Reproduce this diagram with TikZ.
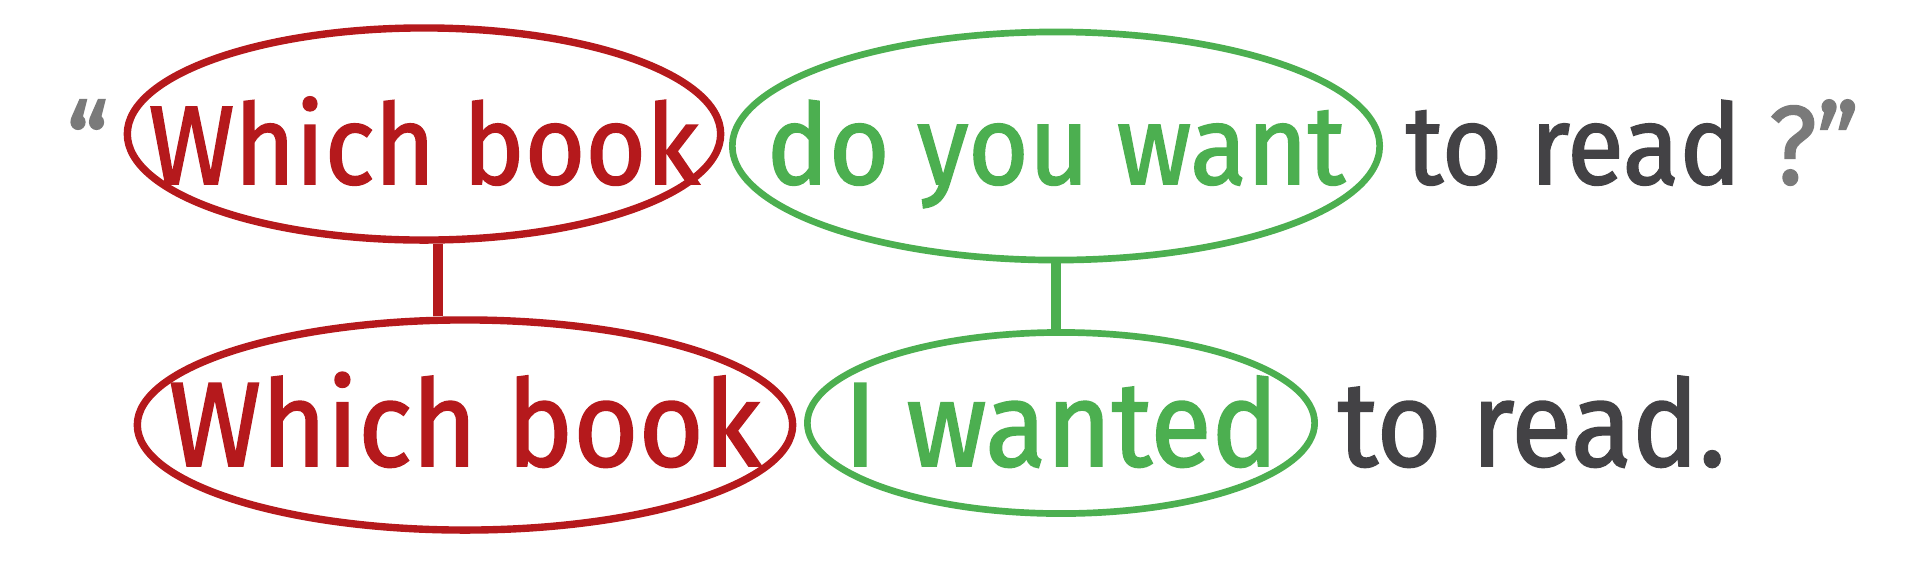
\documentclass[tikz,border=0pt]{standalone}
\usepackage{fontspec}
\setmainfont{Fira Sans}[FakeStretch=0.93,FakeBold=1.5]
\usetikzlibrary{shapes,calc}
\definecolor{wred}{HTML}{B5191C}
\definecolor{wgreen}{HTML}{4CAF50}
\definecolor{wdark}{HTML}{434245}
\definecolor{wgray}{HTML}{7A7A7A}
\newcommand{\topsize}{\fontsize{31.8pt}{38pt}\selectfont}
\newcommand{\botsize}{\fontsize{34.2pt}{41pt}\selectfont}
\newcommand{\ringtext}[1]{\makebox[0pt]{#1}}

\begin{document}
\begin{tikzpicture}[x=0.01cm,y=-0.01cm,
    redring/.style={ellipse, draw=wred, line width=2.1pt, text=wred, inner sep=0pt, text depth=0pt},
    greenring/.style={ellipse, draw=wgreen, line width=1.9pt, text=wgreen, inner sep=0pt, text depth=0pt},
    plain/.style={anchor=base west, inner sep=0pt, text=wdark}]
    \useasboundingbox (0,0) rectangle (1920,563);
    % question
    \node [plain, text=wgray, font=\topsize] (lq) at (66,184) {“};
    \node [redring, font=\topsize, minimum width=5.93cm, minimum height=2.12cm, text height=1cm] (q1) at (424,134) {\ringtext{Which book}};
    \node [greenring, font=\topsize, minimum width=6.47cm, minimum height=2.28cm, text height=0.76cm] (q2) at (1056,146) {\ringtext{do you want}};
    \node [plain, font=\topsize] (q3) at (1405,184) {to read {\color{wgray}?”}};
    % answer
    \node [redring, font=\botsize, minimum width=6.55cm, minimum height=2.10cm, text height=0.82cm] (a1) at (465,425) {\ringtext{Which book}};
    \node [greenring, font=\botsize, minimum width=5.07cm, minimum height=1.81cm, text height=0.86cm] (a2) at (1061,423) {\ringtext{I wanted}};
    \node [plain, font=\botsize] (a3) at (1337,466) {to read.};
    % links
    \draw [wred, line width=2.8pt] ($(q1.south)+(14,0)$) -- ($(a1.north)+(-27,0)$);
    \draw [wgreen, line width=2.8pt, line cap=round] (q2.south) -- (q2.south |- a2.north);
\end{tikzpicture}
\end{document}
